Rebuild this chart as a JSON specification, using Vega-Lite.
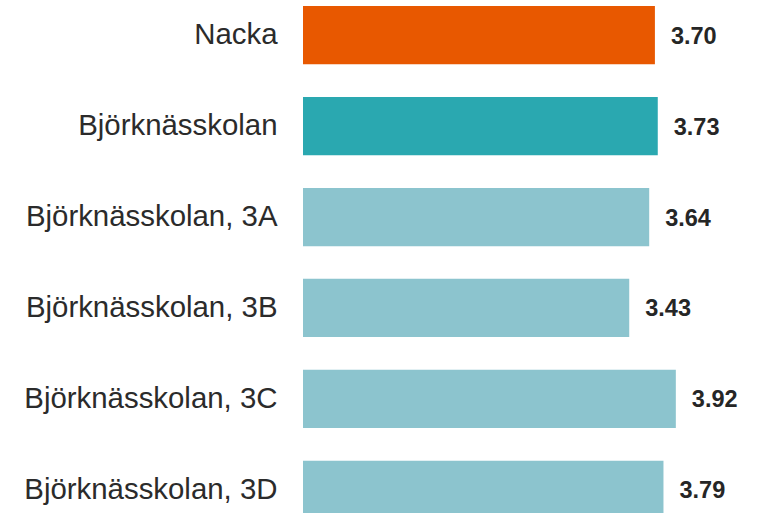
{
  "$schema": "https://vega.github.io/schema/vega-lite/v6.json",
  "autosize": {"type": "none"},
  "padding": {"left": 303, "top": 0, "right": 32, "bottom": 0},
  "width": 428,
  "height": 525,
  "background": "white",
  "config": {"view": {"stroke": null}, "font": "Liberation Sans"},
  "data": {
    "values": [
      {"name": "Nacka", "value": 3.70, "group": "Nacka"},
      {"name": "Björknässkolan", "value": 3.73, "group": "Skola"},
      {"name": "Björknässkolan, 3A", "value": 3.64, "group": "Klass"},
      {"name": "Björknässkolan, 3B", "value": 3.43, "group": "Klass"},
      {"name": "Björknässkolan, 3C", "value": 3.92, "group": "Klass"},
      {"name": "Björknässkolan, 3D", "value": 3.79, "group": "Klass"}
    ]
  },
  "encoding": {
    "y": {
      "field": "name",
      "type": "nominal",
      "sort": null,
      "scale": {"paddingInner": 0.36, "paddingOuter": 0.066},
      "axis": {
        "title": null,
        "domain": false,
        "ticks": false,
        "labelPadding": 26,
        "labelFontSize": 29.4,
        "labelColor": "#2b2b2b",
        "labelFont": "Liberation Sans",
        "labelLimit": 400
      }
    },
    "x": {
      "field": "value",
      "type": "quantitative",
      "scale": {"domain": [0, 4.5]},
      "axis": null
    }
  },
  "layer": [
    {
      "mark": {"type": "bar"},
      "encoding": {
        "color": {
          "field": "group",
          "type": "nominal",
          "scale": {"domain": ["Nacka", "Skola", "Klass"], "range": ["#E85800", "#2AA8B0", "#8CC4CE"]},
          "legend": null
        }
      }
    },
    {
      "mark": {"type": "text", "align": "left", "baseline": "middle", "dx": 16, "dy": 1.5, "fontSize": 23.5, "fontWeight": "bold", "color": "#262626", "font": "Liberation Sans"},
      "encoding": {
        "text": {"field": "value", "type": "quantitative", "format": ".2f"}
      }
    }
  ]
}
